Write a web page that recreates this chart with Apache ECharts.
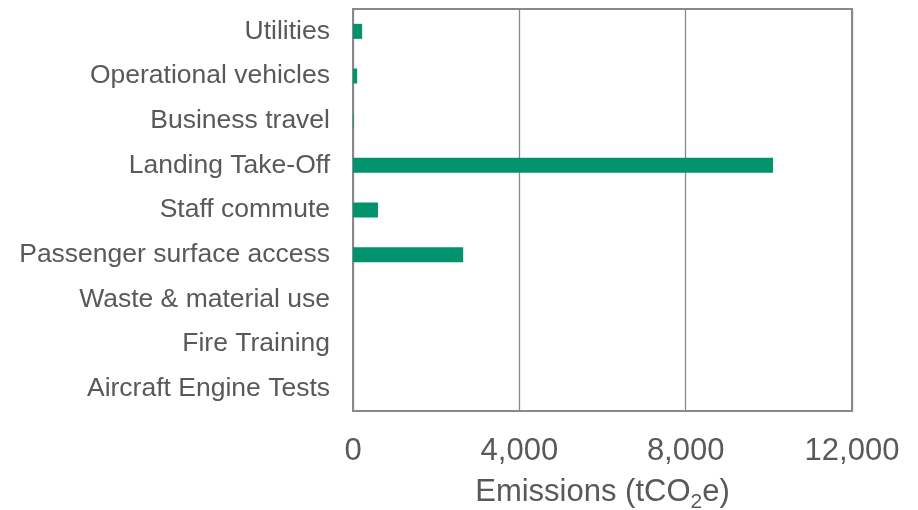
<!DOCTYPE html>
<html>
<head>
<meta charset="utf-8">
<script src="https://cdn.jsdelivr.net/npm/echarts@6/dist/echarts.min.js"></script>
<style>
  * { margin: 0; padding: 0; }
  body { background: #fff; }
</style>
</head>
<body>
<div id="main" style="width: 918px; height: 510px;"></div>
<script>
  // emission sources, top to bottom
  var categories = ['Utilities', 'Operational vehicles', 'Business travel', 'Landing Take-Off',
    'Staff commute', 'Passenger surface access', 'Waste & material use', 'Fire Training', 'Aircraft Engine Tests'];
  var emissions = [220, 100, 15, 10100, 600, 2650, 0, 0, 0];
  var xTicks = [0, 4000, 8000, 12000];

  var chart = echarts.init(document.getElementById('main'));
  chart.setOption({
    animation: false,
    textStyle: { fontFamily: 'Liberation Sans' },
    grid: {
      left: 353, right: 66, top: 9, bottom: 99,
      outerBoundsMode: 'none',
      show: true, borderColor: '#898989', borderWidth: 2
    },
    xAxis: {
      type: 'value',
      min: xTicks[0],
      max: xTicks[xTicks.length - 1],
      interval: 4000,
      axisLine: { show: false },
      axisTick: { show: false },
      splitLine: { lineStyle: { color: '#898989', width: 1.3 } },
      axisLabel: {
        color: '#595959', fontSize: 31, margin: 25,
        formatter: function (v) { return v.toLocaleString('en-US'); }
      },
      name: '{a|Emissions (tCO}{s|2}{a|e)}',
      nameLocation: 'middle',
      nameGap: 60,
      nameTextStyle: {
        rich: {
          a: { color: '#595959', fontSize: 31, lineHeight: 34 },
          s: { color: '#595959', fontSize: 21, lineHeight: 34, padding: [20, 0, 0, 0] }
        }
      }
    },
    yAxis: {
      type: 'category',
      data: categories,
      inverse: true,
      axisLine: { lineStyle: { color: '#898989', width: 2 } },
      axisTick: { show: false },
      axisLabel: { color: '#595959', fontSize: 26.5, margin: 23 }
    },
    series: [
      {
        name: 'Emissions',
        type: 'bar',
        data: emissions,
        barWidth: 15,
        itemStyle: { color: '#00936E' }
      }
    ]
  });
</script>
</body>
</html>
